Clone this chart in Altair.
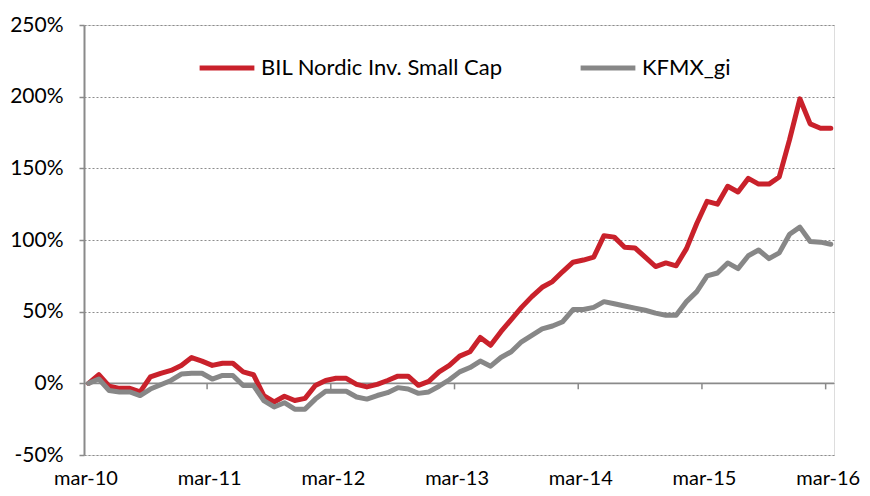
import altair as alt
import pandas as pd

series_names = ["BIL Nordic Inv. Small Cap", "KFMX_gi"]
series_colors = ["#C9212B", "#878787"]

# month index 0 = mar-10 ... 72 = mar-16
months = list(range(73))

bil = [0, 6, -2, -3.5, -3.5, -6, 4.5, 7, 9, 12.5,
       18, 15.5, 12.5, 14, 14, 8, 6, -8.5, -13, -9,
       -12, -10.5, -1.5, 2, 3.5, 3.5, -0.7, -2.5, -0.7, 2,
       5, 5, -1.4, 1.4, 8, 12.5, 19, 22, 32, 26.5,
       36, 44.5, 53, 60.5, 67, 71, 78, 84.5, 86, 88,
       103, 102, 95, 94.5, 88, 81.5, 84, 82, 94, 111.5,
       127, 125, 137.5, 133.5, 143, 139, 139, 144, 170, 198.5,
       181, 178, 178]

kfmx = [0, 3, -5, -6, -6, -8.5, -4, -1, 2, 6.5,
        7, 7, 3, 5.5, 5.5, -1.5, -1.5, -12, -16.5, -13.5,
        -18, -18, -11, -5.5, -5.5, -5.5, -9.5, -11, -8.5, -6.5,
        -3, -4, -7, -6, -2, 2.5, 8, 11, 15.5, 12,
        18, 22, 29, 33.5, 38, 40, 43, 51.5, 51.5, 53,
        57, 55.5, 54, 52.5, 51, 49, 47.5, 47.5, 57, 64,
        75, 77, 84, 80, 89, 93, 87, 91, 104, 109,
        99, 98.5, 97]

label_texts = ["mar-10", "mar-11", "mar-12", "mar-13", "mar-14", "mar-15", "mar-16"]
label_positions = [-0.3, 11.7, 23.7, 35.7, 47.7, 59.7, 71.7]
tick_months = [11.5, 23.5, 35.5, 47.5, 59.5, 71.5]
y_ticks = [-50, 0, 50, 100, 150, 200, 250]

rows = []
for name, vals in zip(series_names, [bil, kfmx]):
    for m, v in zip(months, vals):
        rows.append({"m": m, "v": v, "s": name})
df = pd.DataFrame(rows)

label_list = "[" + ",".join(f"'{t}'" for t in label_texts) + "]"

AX_GRAY = "#8a8a8a"
FONT = "Lato"

xscale = alt.Scale(domain=[-0.44, 72.31], nice=False, zero=False)
yscale = alt.Scale(domain=[-50, 250], nice=False, zero=False)

xaxis = alt.Axis(
    values=label_positions,
    labelExpr=label_list + "[round((datum.value + 0.3) / 12)]",
    title=None,
    ticks=False,
    domain=False,
    grid=False,
    labelPadding=29,
    labelFontSize=20,
    labelFont=FONT,
    labelColor="#000000",
    labelBaseline="alphabetic",
)
yaxis = alt.Axis(
    values=y_ticks,
    labelExpr="datum.value + '%'",
    title=None,
    tickSize=5,
    tickColor=AX_GRAY,
    tickWidth=1.5,
    domainColor=AX_GRAY,
    domainWidth=2,
    grid=True,
    gridColor="#8c8c8c",
    gridDash=[2, 2],
    gridWidth=1,
    labelPadding=16,
    labelFontSize=21,
    labelFont=FONT,
    labelColor="#000000",
)

zero_line = alt.Chart(pd.DataFrame({"z": [0]})).mark_rule(
    color=AX_GRAY, strokeWidth=1.6
).encode(y=alt.Y("z:Q", scale=yscale, axis=yaxis))

ticks = alt.Chart(pd.DataFrame({"t": tick_months})).mark_rule(
    color=AX_GRAY, strokeWidth=1.5
).encode(
    x=alt.X("t:Q", scale=xscale, axis=xaxis),
    y=alt.datum(0),
    y2=alt.datum(-4.2),
)

lines = alt.Chart(df).mark_line(strokeWidth=5, strokeJoin="round", strokeCap="round").encode(
    x=alt.X("m:Q", scale=xscale, axis=xaxis),
    y=alt.Y("v:Q", scale=yscale, axis=yaxis),
    color=alt.Color(
        "s:N",
        scale=alt.Scale(domain=series_names, range=series_colors),
        sort=series_names,
        legend=alt.Legend(
            orient="none",
            legendX=113,
            legendY=13,
            direction="horizontal",
            title=None,
            symbolType="stroke",
            symbolSize=3000,
            symbolStrokeWidth=5,
            labelFont=FONT,
            labelFontSize=22,
            labelColor="#000000",
            labelOffset=4,
            labelLimit=500,
            columnPadding=67,
        ),
    ),
    order=alt.Order("m:Q"),
)

chart = alt.layer(zero_line, ticks, lines).properties(
    width=750,
    height=430,
    autosize=alt.AutoSizeParams(type="none"),
    padding={"left": 76, "top": 17, "right": 28, "bottom": 33},
).configure_view(strokeWidth=0, stroke="transparent").configure(background="white")

chart.save("out.html", embed_options={"renderer": "svg", "actions": False})
